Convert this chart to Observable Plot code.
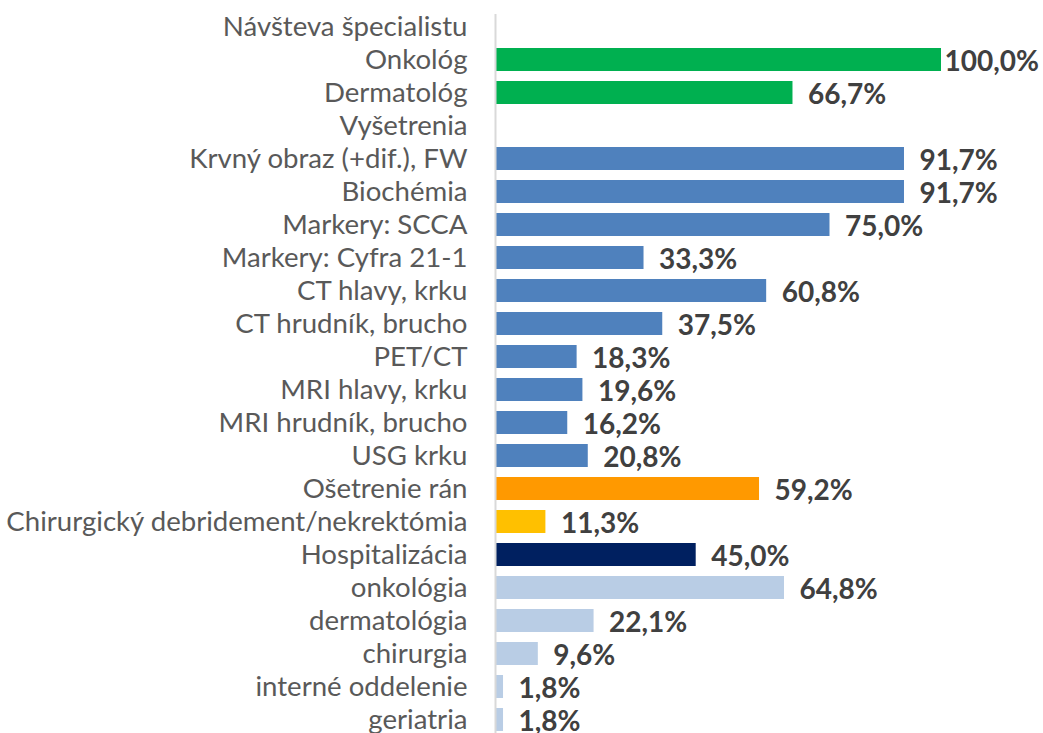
<!DOCTYPE html>
<html><head><meta charset="utf-8">
<script src="https://cdn.jsdelivr.net/npm/d3@7"></script>
<script src="https://cdn.jsdelivr.net/npm/@observablehq/plot@0.6"></script>
<style>
body{margin:0;background:#fff;}
#chart svg{overflow:visible;}
</style></head>
<body><div id="chart"></div>
<script>
const categories = ["Návšteva špecialistu","Onkológ","Dermatológ","Vyšetrenia","Krvný obraz (+dif.), FW","Biochémia","Markery: SCCA","Markery: Cyfra 21-1","CT hlavy, krku","CT hrudník, brucho","PET/CT","MRI hlavy, krku","MRI hrudník, brucho","USG krku","Ošetrenie rán","Chirurgický debridement/nekrektómia","Hospitalizácia","onkológia","dermatológia","chirurgia","interné oddelenie","geriatria"];
const values = [null,100.0,66.7,null,91.7,91.7,75.0,33.3,60.8,37.5,18.3,19.6,16.2,20.8,59.2,11.3,45.0,64.8,22.1,9.6,1.8,1.8];
const groups = ["head","spec","spec","head","exam","exam","exam","exam","exam","exam","exam","exam","exam","exam","wound","debr","hosp","ward","ward","ward","ward","ward"];
const groupNames = ["head","spec","exam","wound","debr","hosp","ward"];
const groupColors = ["#ffffff","#00b050","#4f81bd","#ff9900","#ffc000","#002060","#b9cde5"];

const data = categories.map((c,i)=>({cat:c, value:values[i], group:groups[i]}));
const bars = data.filter(d=>d.value!=null);
const fmt = v => v.toFixed(1).replace(".", ",") + "%";

const chart = Plot.plot({
  width: 1043,
  height: 733,
  marginLeft: 495,
  marginRight: 102,
  marginTop: 14,
  marginBottom: 0,
  style: {fontFamily: "Lato, sans-serif", background: "#fff"},
  x: {domain: [0, 100], axis: null},
  y: {domain: categories, paddingInner: 0.3, paddingOuter: 0, label: null},
  color: {domain: groupNames, range: groupColors},
  marks: [
    Plot.barX(bars, {x: "value", y: "cat", fill: "group"}),
    Plot.ruleX([0], {stroke: "#d9d9d9", strokeWidth: 2}),
    Plot.axisY({tickSize: 0, tickPadding: 28, fontSize: 27.6, fill: "#595959", label: null}),
    Plot.text(bars.filter(d=>d.value<100), {x: "value", y: "cat", text: d=>fmt(d.value), textAnchor: "start", dx: 15, dy: 2, fontSize: 28, fontWeight: "bold", fill: "#404040"}),
    Plot.text(bars.filter(d=>d.value>=100), {x: "value", y: "cat", text: d=>fmt(d.value), textAnchor: "start", dx: 3, dy: 2, fontSize: 28, fontWeight: "bold", fill: "#404040"})
  ]
});
document.getElementById("chart").appendChild(chart);
</script></body></html>
